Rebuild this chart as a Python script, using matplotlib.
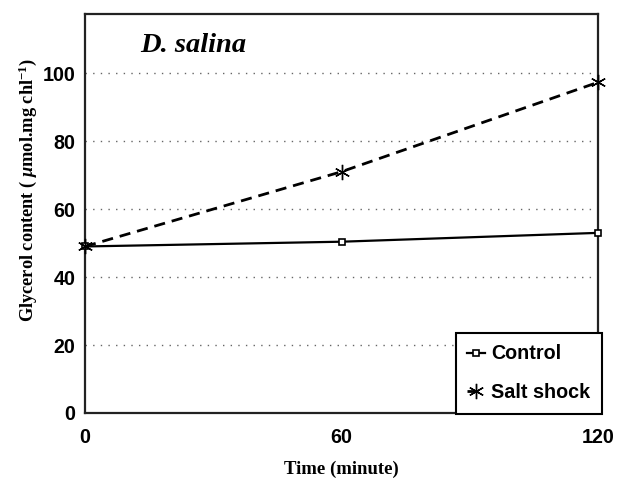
"""Glycerol content of D. salina under control vs salt shock (writes out.png)."""

import matplotlib
matplotlib.use("Agg")
import matplotlib.pyplot as plt

# data
time_min = [0, 60, 120]
control = [49, 50.4, 53]
salt_shock = [49, 71, 97.3]

x_ticks = [0, 60, 120]
y_ticks = [0, 20, 40, 60, 80, 100]

plt.rcParams['mathtext.fontset'] = 'custom'
plt.rcParams['mathtext.rm'] = 'Liberation Serif:bold'
plt.rcParams['mathtext.it'] = 'Liberation Serif:italic:bold'
plt.rcParams['mathtext.bf'] = 'Liberation Serif:bold'

SANS = 'Liberation Sans'
SERIF = 'Liberation Serif'

fig = plt.figure(figsize=(6.18, 4.8), dpi=100, facecolor='white')
ax = fig.add_axes([85 / 618, 67 / 480, 513 / 618, 399 / 480])

# dotted grid lines
for yv in y_ticks[1:]:
    ax.axhline(yv, color='#666666', linestyle=(0, (1, 4.5)), linewidth=1.0, zorder=1)

ax.plot(time_min, control, '-', color='black', linewidth=1.6,
        marker='s', markersize=5, markerfacecolor='white',
        markeredgecolor='black', markeredgewidth=1.2, label='Control',
        zorder=3, clip_on=False)
ax.plot(time_min, salt_shock, '--', color='black', linewidth=2.0,
        dashes=(4, 2.5), marker=(6, 2, 0), markersize=11,
        markeredgewidth=1.0, label='Salt shock', zorder=3, clip_on=False)

ax.set_xlim(0, 120)
ax.set_ylim(0, 117.4)
ax.set_xticks(x_ticks)
ax.set_yticks(y_ticks)
ax.tick_params(length=0)
ax.tick_params(axis='x', pad=11)
ax.tick_params(axis='y', pad=7)
for lab in ax.get_xticklabels() + ax.get_yticklabels():
    lab.set_fontfamily(SANS)
    lab.set_fontweight('bold')
    lab.set_fontsize(14.2)

for sp in ax.spines.values():
    sp.set_linewidth(1.6)
    sp.set_color('#222222')

ax.set_xlabel('Time (minute)', fontfamily=SERIF, fontweight='bold',
              fontsize=13.5, labelpad=10)
ax.set_ylabel(r'Glycerol content ( $\mu$mol.mg chl$^{-1}$)', fontfamily=SERIF,
              fontweight='bold', fontsize=13.2)
ax.yaxis.set_label_coords(-0.09, 0.56)

ax.text(0.107, 0.92, 'D. salina', transform=ax.transAxes, fontfamily=SERIF,
        fontstyle='italic', fontweight='bold', fontsize=20.5, va='center')

leg = ax.legend(loc='lower right', bbox_to_anchor=(602 / 618, 66 / 480),
                bbox_transform=fig.transFigure,
                prop={'family': SANS, 'weight': 'bold', 'size': 14.2},
                fancybox=False, framealpha=1, edgecolor='black',
                handlelength=0.9, handletextpad=0.3, borderpad=0.6,
                labelspacing=1.0, borderaxespad=0)
leg.get_frame().set_linewidth(1.5)
leg.set_zorder(5)

fig.savefig('out.png', dpi=100, facecolor='white')
